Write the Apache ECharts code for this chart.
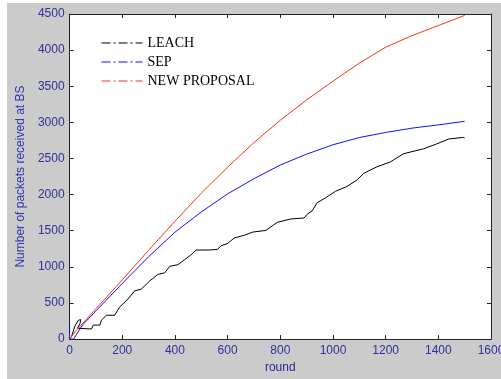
<!DOCTYPE html>
<html>
<head>
<meta charset="utf-8">
<script src="https://cdn.jsdelivr.net/npm/echarts@6/dist/echarts.min.js"></script>
<style>
html,body{margin:0;padding:0;background:#fff;}
#wrap{position:relative;width:501px;height:379px;background:#fff;overflow:hidden;}
#chart{position:absolute;left:7px;top:3px;width:514px;height:376px;}
</style>
</head>
<body>
<div id="wrap"><div id="chart"></div></div>
<script>
// ---- data ----
var xTicks = [0, 200, 400, 600, 800, 1000, 1200, 1400, 1600];
var yTicks = [0, 500, 1000, 1500, 2000, 2500, 3000, 3500, 4000, 4500];
var seriesNames = ['LEACH', 'SEP', 'NEW PROPOSAL'];

var leachRounds  = [0, 8, 20, 33, 42, 40, 30, 33, 83, 90, 115, 121, 140, 171, 190, 222, 247, 272, 304, 335, 361, 380, 411, 436, 461, 480, 531, 562, 575, 600, 625, 663, 695, 745, 789, 840, 890, 903, 921, 940, 972, 1010, 1054, 1092, 1117, 1167, 1218, 1268, 1344, 1394, 1439, 1495, 1500];
var leachPackets = [0, 40, 180, 260, 270, 220, 150, 140, 140, 194, 194, 262, 330, 330, 443, 556, 668, 691, 804, 895, 917, 1007, 1030, 1098, 1166, 1233, 1233, 1243, 1292, 1324, 1400, 1437, 1481, 1504, 1617, 1663, 1676, 1731, 1775, 1888, 1956, 2047, 2114, 2205, 2295, 2385, 2453, 2566, 2634, 2702, 2769, 2792, 2783];

var sepRounds  = [0, 0, 15, 50, 100, 200, 300, 400, 500, 600, 700, 800, 900, 1000, 1100, 1200, 1300, 1400, 1500];
var sepPackets = [190, 0, 0, 200, 390, 770, 1140, 1480, 1760, 2010, 2220, 2410, 2560, 2690, 2790, 2860, 2920, 2965, 3015];

var newRounds  = [0, 20, 50, 100, 200, 300, 400, 500, 600, 700, 800, 900, 1000, 1100, 1200, 1300, 1400, 1500];
var newPackets = [0, 100, 220, 420, 820, 1230, 1630, 2020, 2380, 2720, 3030, 3310, 3570, 3820, 4040, 4200, 4340, 4480];

function zip(xs, ys) { return xs.map(function (x, i) { return [x, ys[i]]; }); }

var labelColor = '#30309a';
var chart = echarts.init(document.getElementById('chart'), null, {renderer: 'canvas'});
var axisCommon = {
  type: 'value',
  axisLine: {show: true, onZero: false, lineStyle: {color: '#222', width: 1}},
  axisTick: {show: true, inside: true, length: 4, lineStyle: {color: '#222'}},
  splitLine: {show: false}
};
var plain = function (v) { return String(v); };
var dashDot = [9, 3, 2, 3];
var option = {
  backgroundColor: '#cbcbcb',
  animation: false,
  grid: {left: 61, right: 30, top: 11, bottom: 33, show: true, backgroundColor: '#fff', borderWidth: 0},
  legend: {
    orient: 'vertical', left: 89, top: 28, itemWidth: 41, itemHeight: 14, itemGap: 5,
    itemStyle: {opacity: 0},
    textStyle: {fontFamily: 'Liberation Serif', fontSize: 14, color: '#000'},
    data: [
      {name: 'LEACH', lineStyle: {type: dashDot, width: 1}},
      {name: 'SEP', lineStyle: {type: dashDot, width: 1}},
      {name: 'NEW PROPOSAL', lineStyle: {type: dashDot, width: 1}}
    ]
  },
  xAxis: [
    Object.assign({}, axisCommon, {
      position: 'bottom', min: xTicks[0], max: xTicks[xTicks.length - 1], interval: 200,
      axisLabel: {color: labelColor, fontFamily: 'Liberation Sans', fontSize: 12, margin: 6, formatter: plain},
      name: 'round', nameLocation: 'middle', nameGap: 22,
      nameTextStyle: {color: '#2a2a90', fontFamily: 'Liberation Sans', fontSize: 12}
    }),
    Object.assign({}, axisCommon, {
      position: 'top', min: xTicks[0], max: xTicks[xTicks.length - 1], interval: 200,
      axisLabel: {show: false}
    })
  ],
  yAxis: [
    Object.assign({}, axisCommon, {
      position: 'left', min: yTicks[0], max: yTicks[yTicks.length - 1], interval: 500,
      axisLabel: {color: labelColor, fontFamily: 'Liberation Sans', fontSize: 12, margin: 5, formatter: plain},
      name: 'Number of packets received at BS', nameLocation: 'middle', nameGap: 33,
      nameTextStyle: {color: '#3333b3', fontFamily: 'Liberation Sans', fontSize: 12}
    }),
    Object.assign({}, axisCommon, {
      position: 'right', min: yTicks[0], max: yTicks[yTicks.length - 1], interval: 500,
      axisLabel: {show: false}
    })
  ],
  series: [
    {name: seriesNames[0], type: 'line', data: zip(leachRounds, leachPackets), symbol: 'none',
     lineStyle: {color: '#000', width: 1}, itemStyle: {color: '#000'}},
    {name: seriesNames[1], type: 'line', data: zip(sepRounds, sepPackets), symbol: 'none',
     lineStyle: {color: '#1010ff', width: 1}, itemStyle: {color: '#1010ff'}},
    {name: seriesNames[2], type: 'line', data: zip(newRounds, newPackets), symbol: 'none',
     lineStyle: {color: '#ff3010', width: 1}, itemStyle: {color: '#ff3010'}}
  ]
};
chart.setOption(option);
</script>
</body>
</html>
